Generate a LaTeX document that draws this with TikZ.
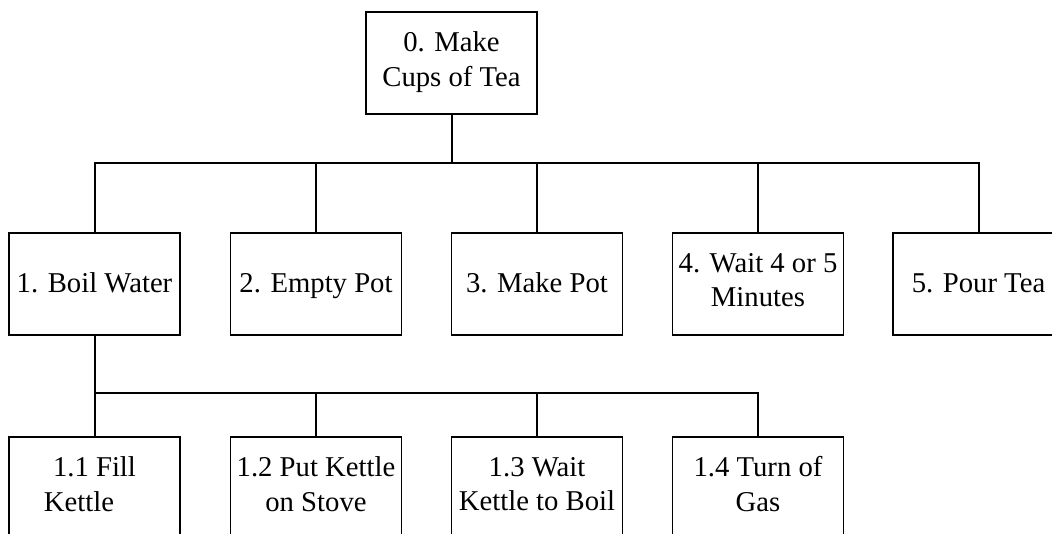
\documentclass[tikz,border=0pt]{standalone}
\usepackage{fontspec}
\setmainfont{Liberation Serif}
% fixed line height so every box places its text on the same baselines
\newcommand\linestrut{\rule[-8pt]{0pt}{34pt}}
\begin{document}
\begin{tikzpicture}[x=1pt,y=-1pt,
  taskbox/.style={draw, line width=1.5pt, rectangle, minimum width=171pt,
    minimum height=102pt, inner sep=0pt, align=center,
    font=\fontsize{28.7}{34.5}\selectfont,
    execute at begin node=\linestrut, execute at end node=\linestrut},
  link/.style={line width=2pt}]
  \useasboundingbox (0,0) rectangle (1052,534);
  \fill[white] (0,0) rectangle (1052,534);
  \clip (0,0) rectangle (1052,534);

  % top task
  \node[taskbox] (root) at (451.5,63) {0. Make\\Cups of Tea};

  % first level
  \node[taskbox] (b1) at (94.5,284) {1. Boil Water};
  \node[taskbox] (b2) at (316,284) {2. Empty Pot};
  \node[taskbox] (b3) at (537,284) {3. Make Pot};
  \node[taskbox] (b4) at (758,284) {4. Wait 4 or 5\\Minutes};
  \node[taskbox] (b5) at (978.5,284) {5. Pour Tea};

  % second level, under "Boil Water"
  \node[taskbox] (c1) at (94.5,488) {1.1 Fill\\Kettle\rule{31pt}{0pt}};
  \node[taskbox] (c2) at (316,488) {1.2 Put Kettle\\on Stove};
  \node[taskbox] (c3) at (537,488) {1.3 Wait\\Kettle to Boil};
  \node[taskbox] (c4) at (758,488) {1.4 Turn of\\Gas};

  % bus lines
  \coordinate (busA) at (451.5,163);
  \coordinate (busB) at (94.5,393);

  \draw[link] (root.south) -- (root.south |- busA);
  \draw[link] (b1.north) -- (b1.north |- busA) -| (b5.north);
  \foreach \n in {b2,b3,b4}
    \draw[link] (\n.north) -- (\n.north |- busA);

  \draw[link] (b1.south) -- (c1.north);
  \draw[link] (busB) -| (c4.north);
  \foreach \n in {c2,c3}
    \draw[link] (\n.north) -- (\n.north |- busB);
\end{tikzpicture}
\end{document}
